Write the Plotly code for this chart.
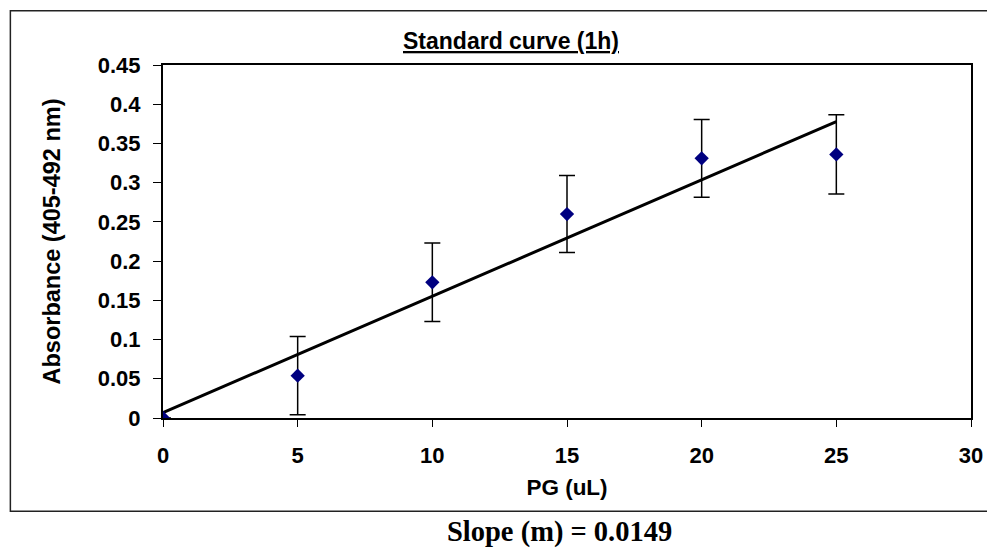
import numpy as np
import plotly.graph_objects as go

pg_ul = [0, 5, 10, 15, 20, 25]
absorbance = [0.0, 0.054, 0.173, 0.260, 0.331, 0.336]
abs_error = [0.0, 0.050, 0.050, 0.049, 0.0495, 0.0505]
x_ticks = [0, 5, 10, 15, 20, 25, 30]
y_ticks = [0, 0.05, 0.1, 0.15, 0.2, 0.25, 0.3, 0.35, 0.4, 0.45]
y_tick_labels = ["0", "0.05", "0.1", "0.15", "0.2", "0.25", "0.3", "0.35", "0.4", "0.45"]

slope, intercept = np.polyfit(pg_ul, absorbance, 1)
fit_x = [min(pg_ul), max(pg_ul)]
fit_y = [slope * v + intercept for v in fit_x]

ARIAL = "Arial, Liberation Sans, sans-serif"
TIMES = "Times New Roman, Liberation Serif, serif"

fig = go.Figure()
fig.add_trace(go.Scatter(
    x=fit_x, y=fit_y, mode="lines",
    line=dict(color="black", width=3),
    hoverinfo="skip", showlegend=False,
))
fig.add_trace(go.Scatter(
    x=pg_ul, y=absorbance, mode="markers",
    marker=dict(symbol="diamond", size=11, color="#000080"),
    error_y=dict(type="data", array=abs_error, visible=True,
                 color="black", thickness=1.5, width=8),
    showlegend=False,
))

# page has an 8px body margin, so the figure is 8px smaller than the window
fig.update_layout(
    width=987, height=545,
    margin=dict(l=155, r=22, t=56.5, b=134.7),
    paper_bgcolor="white", plot_bgcolor="white",
    font=dict(family=ARIAL, color="black"),
    shapes=[dict(type="rect", xref="paper", yref="paper",
                 x0=-0.1889, x1=1.03, y0=-0.264, y1=1.154,
                 line=dict(color="#222222", width=1.5), layer="below")],
    annotations=[
        dict(text="<u>Standard curve (1h)</u>", xref="paper", yref="paper",
             x=0.4302, y=1.069, xanchor="center", yanchor="middle",
             showarrow=False,
             font=dict(family=ARIAL, size=23, color="black", weight="bold")),
        dict(text="Slope (m) = 0.0149", xref="paper", yref="paper",
             x=0.4907, y=-0.324, xanchor="center", yanchor="middle",
             showarrow=False,
             font=dict(family=TIMES, size=28.5, color="black", weight="bold")),
    ],
)

fig.update_xaxes(
    range=[0, 30], tickvals=x_ticks, ticktext=[str(v) for v in x_ticks],
    showgrid=False, zeroline=False,
    showline=True, linecolor="black", linewidth=2, mirror=True,
    ticks="outside", ticklen=7, tickwidth=1, tickcolor="black",
    tickfont=dict(family=ARIAL, size=22, color="black", weight="bold"),
    ticklabelstandoff=10,
    title=dict(text="PG (uL)",
               font=dict(family=ARIAL, size=22.5, color="black", weight="bold"),
               standoff=12),
)
fig.update_yaxes(
    range=[0, 0.45], tickvals=y_ticks, ticktext=y_tick_labels,
    showgrid=False, zeroline=False,
    showline=True, linecolor="black", linewidth=2, mirror=True,
    ticks="outside", ticklen=8, tickwidth=1, tickcolor="black",
    tickfont=dict(family=ARIAL, size=22, color="black", weight="bold"),
    ticklabelstandoff=8,
    title=dict(text="Absorbance (405-492 nm)",
               font=dict(family=ARIAL, size=23.5, color="black", weight="bold"),
               standoff=31),
)

fig.write_html("out.html")
